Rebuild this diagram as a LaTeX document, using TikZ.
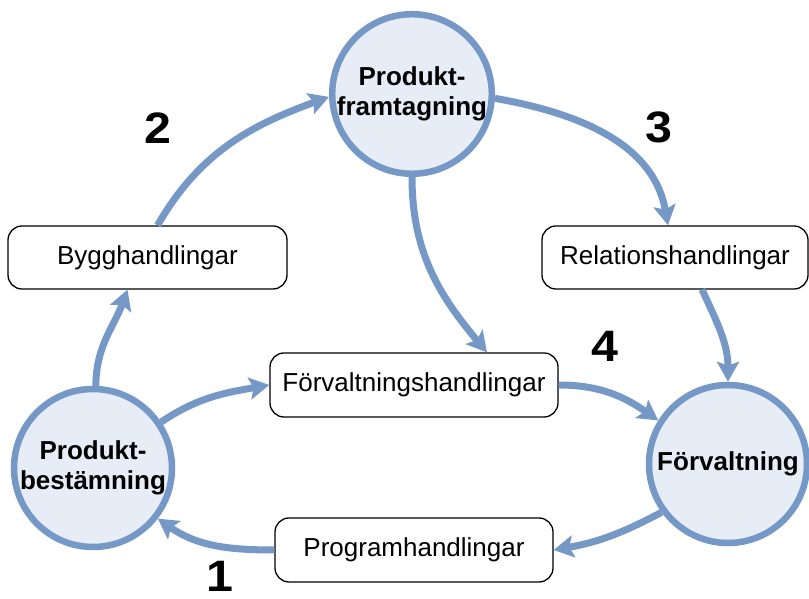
\documentclass[tikz,border=0pt]{standalone}
\usepackage{fontspec}
\setmainfont{Liberation Sans}
\usepackage{graphicx}
\usetikzlibrary{arrows.meta}
\definecolor{flowline}{RGB}{117,152,198}
\definecolor{phasefill}{RGB}{230,237,247}
\begin{document}
\begin{tikzpicture}[x=1pt,y=1pt,
  phase/.style={circle, draw=flowline, fill=phasefill, line width=6.5pt,
    minimum size=158pt, inner sep=0pt, align=center,
    font=\fontsize{26}{30}\selectfont\bfseries},
  docbox/.style={draw=black, line width=1.3pt, rounded corners=14pt, fill=white,
    minimum height=63pt, inner sep=0pt, font=\fontsize{26}{30}\selectfont},
  flow/.style={draw=flowline, line width=7pt,
    -{Stealth[length=20pt,width=22pt,inset=4pt]}},
  stage/.style={font=\fontsize{44}{44}\selectfont\bfseries, inner sep=0pt}
]
\useasboundingbox (0,0) rectangle (809,599);

% the three phases
\node[phase] (framtagning) at (412,505) {Produkt-\\framtagning};
\node[phase] (bestamning) at (93,131) {Produkt-\\bestämning};
\node[phase] (forvaltning) at (728,135) {Förvaltning};

% document sets handed between the phases
\node[docbox, minimum width=279pt] (bygg) at (147.5,341.5) {Bygghandlingar};
\node[docbox, minimum width=266pt] (relation) at (675,341.5) {Relationshandlingar};
\node[docbox, minimum width=288pt, minimum height=64pt] (fhandl) at (414,214) {Förvaltningshandlingar};
\node[docbox, minimum width=278pt, minimum height=64pt] (program) at (414,49) {Programhandlingar};

% flow of the cycle
\draw[flow] ([xshift=10pt]bygg.north) to[out=60,in=200] (framtagning.182);
\draw[flow] (framtagning.-3) to[out=-10,in=100] ([xshift=-7pt]relation.north);
\draw[flow] ([xshift=27pt]relation.south) to[out=-65,in=90] (forvaltning.north);
\draw[flow] (framtagning.south) to[out=-90,in=130] ([xshift=73pt]fhandl.north);
\draw[flow] (fhandl.east) to[out=0,in=145] (forvaltning.148);
\draw[flow] (forvaltning.216) to[out=208,in=10] (program.east);
\draw[flow] (program.west) to[out=180,in=-35] (bestamning.-38);
\draw[flow] (bestamning.88) to[out=90,in=250] ([xshift=-20pt]bygg.south);
\draw[flow] (bestamning.34) to[out=34,in=190] (fhandl.west);

% step numbers
\node[stage] (s1) at (220,23) {\scalebox{1.1}[1]{1}};
\node[stage] (s2) at (158,471) {\scalebox{1.1}[1]{2}};
\node[stage] (s3) at (659,472) {\scalebox{1.1}[1]{3}};
\node[stage] (s4) at (605,253) {\scalebox{1.1}[1]{4}};
\end{tikzpicture}
\end{document}
